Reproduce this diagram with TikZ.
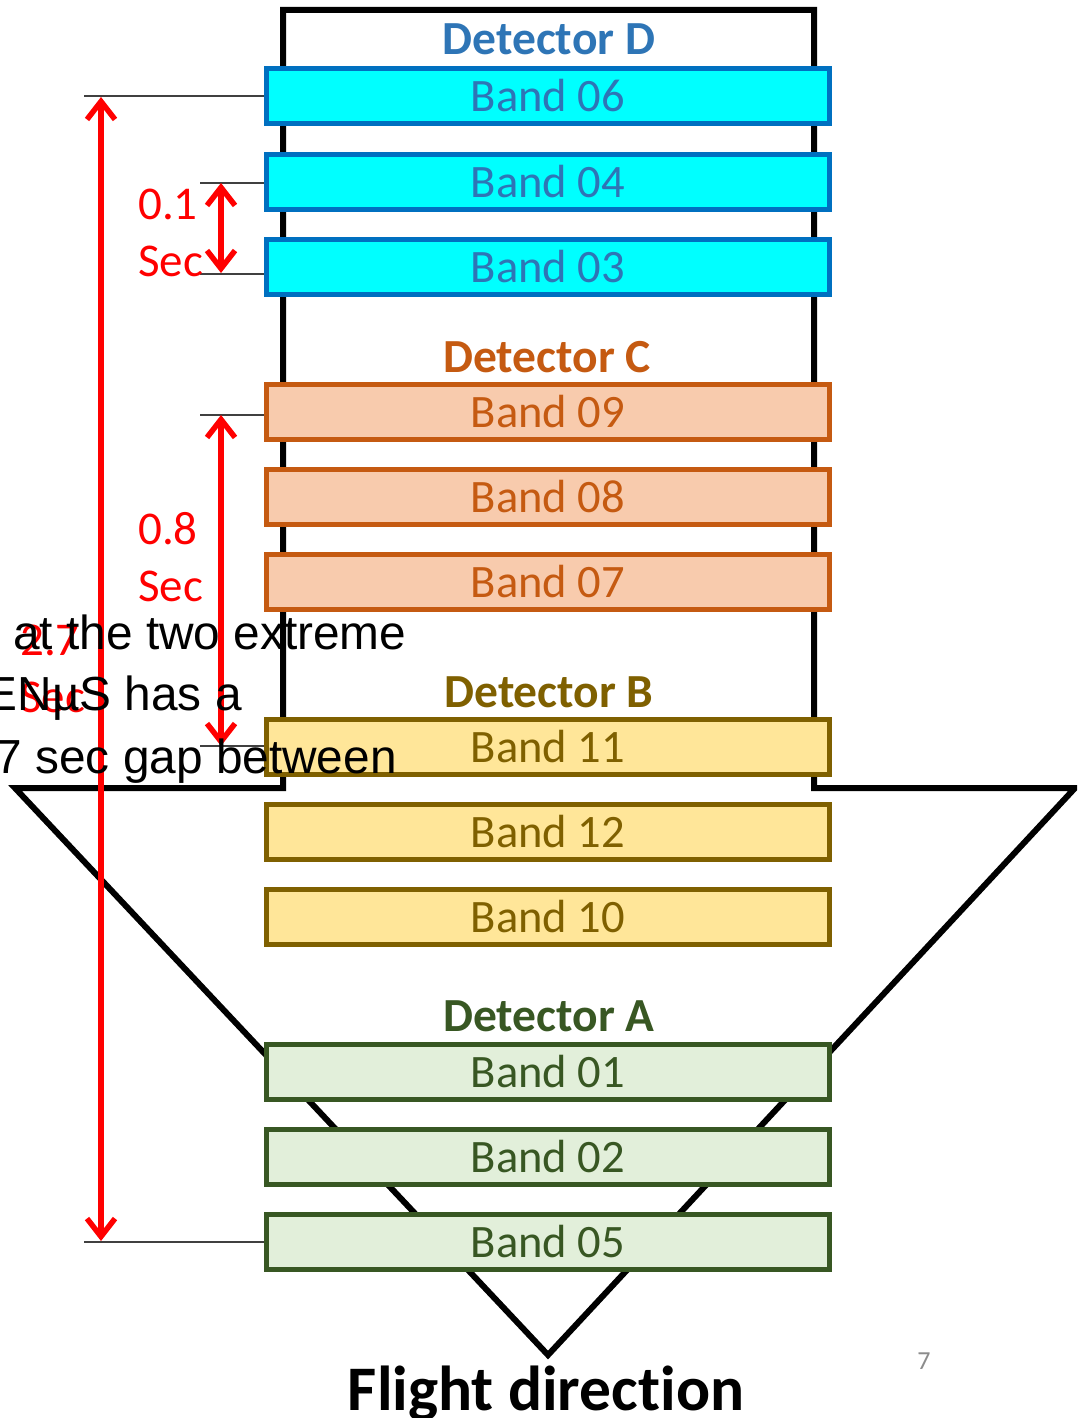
\documentclass[tikz,border=0pt]{standalone}
\usepackage{fontspec}
\setmainfont[Ligatures=NoCommon]{Carlito}
\newfontfamily\arialf{Liberation Sans}
\usetikzlibrary{arrows.meta}
\definecolor{dblue}{HTML}{2E75B6}
\definecolor{dbord}{HTML}{0070C0}
\definecolor{cyanf}{HTML}{00FFFF}
\definecolor{corange}{HTML}{C55A11}
\definecolor{cpeach}{HTML}{F8CBAD}
\definecolor{bgold}{HTML}{7F6000}
\definecolor{byel}{HTML}{FFE699}
\definecolor{agreen}{HTML}{385723}
\definecolor{alight}{HTML}{E2EFDA}
\definecolor{pnum}{HTML}{8C8C8C}
\definecolor{redc}{HTML}{FF0000}
\tikzset{
  bandbox/.style={draw, line width=5pt, minimum width=563pt, minimum height=55pt, inner sep=0pt, font=\fontsize{46.5}{46}\selectfont},
  bandD/.style={bandbox, fill=cyanf, draw=dbord, text=dblue},
  bandC/.style={bandbox, fill=cpeach, draw=corange, text=corange},
  bandB/.style={bandbox, fill=byel, draw=bgold, text=bgold},
  bandA/.style={bandbox, fill=alight, draw=agreen, text=agreen},
  detlabel/.style={anchor=base, inner sep=0pt, font=\fontsize{47.5}{47}\selectfont\bfseries},
  redlbl/.style={anchor=base west, inner sep=0pt, text=redc, font=\fontsize{47}{46}\selectfont},
  overtext/.style={inner sep=0pt, text=black, font=\arialf\fontsize{47.8}{47}\selectfont},
  guide/.style={line width=1.5pt, draw=black!75},
  timearrow/.style={draw=redc, line width=6pt, {Straight Barb[length=18pt,width=28pt,line width=5.5pt]}-{Straight Barb[length=18pt,width=28pt,line width=5.5pt]}},
  outline/.style={draw=black, line width=6pt, fill=white, line join=miter}
}
\begin{document}
\begin{tikzpicture}[x=1pt,y=-1pt]
\clip (0,0) rectangle (1077,1418);
\fill[white] (0,0) rectangle (1077,1418);
% flight arrow outline
\draw[outline] (283,10) -- (814,10) -- (814,788) -- (1075,788) -- (548,1355) -- (15,788) -- (283,788) -- cycle;
% guide coordinates
\coordinate (g06) at (84,96);
\coordinate (g04) at (200,183);
\coordinate (g03) at (200,274);
\coordinate (g09) at (200,415);
\coordinate (g11) at (200,746);
\coordinate (g05) at (84,1242);
% bands
\node[bandD] (b06) at (548,96) {Band 06};
\node[bandD] (b04) at (548,182) {Band 04};
\node[bandD] (b03) at (548,267) {Band 03};
\node[bandC] (b09) at (548,412) {Band 09};
\node[bandC] (b08) at (548,497) {Band 08};
\node[bandC] (b07) at (548,582) {Band 07};
\node[bandB] (b11) at (548,747) {Band 11};
\node[bandB] (b12) at (548,832) {Band 12};
\node[bandB] (b10) at (548,917) {Band 10};
\node[bandA] (b01) at (548,1072) {Band 01};
\node[bandA] (b02) at (548,1157) {Band 02};
\node[bandA] (b05) at (548,1242) {Band 05};
% detector labels
\node[detlabel, text=dblue] (dD) at (549,55) {Detector D};
\node[detlabel, text=corange] (dC) at (547,372) {Detector C};
\node[detlabel, text=bgold] (dB) at (549,707) {Detector B};
\node[detlabel, text=agreen] (dA) at (549,1031) {Detector A};
% guide lines
\draw[guide] (g06) -- (g06 -| b06.west);
\draw[guide] (g04) -- (g04 -| b04.west);
\draw[guide] (g03) -- (g03 -| b03.west);
\draw[guide] (g09) -- (g09 -| b09.west);
\draw[guide] (g11) -- (g11 -| b11.west);
\draw[guide] (g05) -- (g05 -| b05.west);
% time arrows
\coordinate (t27a) at (101,97);
\coordinate (t27b) at (101,1241);
\coordinate (t01a) at (221,183);
\coordinate (t01b) at (221,273);
\coordinate (t08a) at (221,415);
\coordinate (t08b) at (221,746);
\draw[timearrow] (t27a) -- (t27b);
\draw[timearrow] (t01a) -- (t01b);
\draw[timearrow] (t08a) -- (t08b);
% red labels
\node[redlbl] (l01a) at (138,219) {0.1};
\node[redlbl] (l01b) at (138,276) {Sec};
\node[redlbl] (l08a) at (138,544) {0.8};
\node[redlbl] (l08b) at (138,601) {Sec};
\node[redlbl] (l27a) at (20,655) {2.7};
\node[redlbl] (l27b) at (20,712) {Sec};
% overlay black text
\node[overtext, anchor=base west] (o1) at (13,649) {at the two extreme};
\node[overtext, anchor=base east] (o2) at (242,710) {ENµS has a};
\node[overtext, anchor=base east] (o3) at (397,773) {7 sec gap between};
% flight direction
\node[anchor=base, inner sep=0pt, font=\fontsize{63.5}{62}\selectfont\bfseries] (fd) at (546,1410) {Flight direct\kern0pt ion};
% page number
\node[anchor=base, inner sep=0pt, text=pnum, font=\fontsize{26}{26}\selectfont] (pn) at (924,1369) {7};
\end{tikzpicture}
\end{document}
